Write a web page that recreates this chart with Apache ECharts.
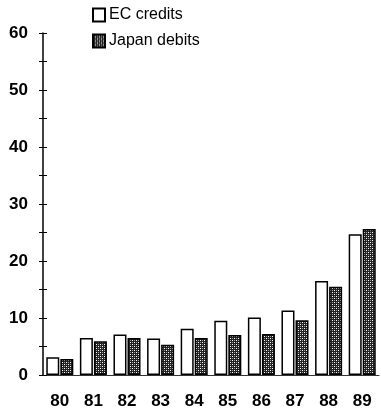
<!DOCTYPE html>
<html>
<head>
<meta charset="utf-8">
<script src="https://cdn.jsdelivr.net/npm/echarts@6/dist/echarts.min.js"></script>
<style>
  html, body { margin: 0; padding: 0; background: #fff; }
  #chart { width: 381px; height: 416px; }
</style>
<title>EC credits / Japan debits</title>
</head>
<body>
<div id="chart"></div>
<script>
// data
var years = ['80', '81', '82', '83', '84', '85', '86', '87', '88', '89'];
var ecCredits = [3.1, 6.5, 7.1, 6.4, 8.1, 9.5, 10.1, 11.3, 16.5, 24.7];
var japanDebits = [2.8, 5.9, 6.5, 5.3, 6.5, 7.0, 7.2, 9.6, 15.5, 25.6];
var yTicks = [0, 10, 20, 30, 40, 50, 60];

// dark checkered fill for the Japan bars
function makePattern() {
  var c = document.createElement('canvas');
  c.width = 4; c.height = 4;
  var ctx = c.getContext('2d');
  ctx.fillStyle = '#222';
  ctx.fillRect(0, 0, 4, 4);
  ctx.fillStyle = '#fff';
  ctx.fillRect(0, 0, 1, 1);
  ctx.fillRect(2, 2, 1, 1);
  ctx.fillStyle = '#999';
  ctx.fillRect(2, 0, 1, 1);
  ctx.fillRect(0, 2, 1, 1);
  return c;
}
var pattern = { image: makePattern(), repeat: 'repeat' };

var myChart = echarts.init(document.getElementById('chart'));
var font = 'Liberation Sans, Arial, sans-serif';

var option = {
  animation: false,
  grid: { left: 43, right: 2, top: 33, bottom: 41 },
  legend: {
    orient: 'vertical',
    left: 87,
    top: 2,
    icon: 'rect',
    itemWidth: 12,
    itemHeight: 13,
    itemGap: 10,
    selectedMode: false,
    textStyle: { fontFamily: font, fontSize: 16, color: '#000', padding: [5, 0, 0, -1] },
    data: ['EC credits', 'Japan debits']
  },
  xAxis: {
    type: 'category',
    data: years,
    axisLine: { lineStyle: { color: '#333', width: 1 } },
    axisTick: { show: false },
    axisLabel: { color: '#000', fontFamily: font, fontWeight: 'bold', fontSize: 17, margin: 18 }
  },
  yAxis: [{
    type: 'value',
    min: yTicks[0],
    max: yTicks[yTicks.length - 1],
    interval: 10,
    axisLine: { show: true, lineStyle: { color: '#000', width: 1.5 } },
    axisTick: { show: true, length: 4, lineStyle: { color: '#000' } },
    minorTick: { show: true, splitNumber: 2, length: 4, lineStyle: { color: '#000' } },
    splitLine: { show: false },
    axisLabel: { color: '#000', fontFamily: font, fontWeight: 'bold', fontSize: 17, margin: 15 }
  }, {
    type: 'value',
    position: 'left',
    min: yTicks[0],
    max: yTicks[yTicks.length - 1],
    interval: 10,
    axisLine: { show: false },
    axisTick: { show: true, inside: true, length: 4, lineStyle: { color: '#000' } },
    minorTick: { show: true, splitNumber: 2, length: 4, lineStyle: { color: '#000' } },
    splitLine: { show: false },
    axisLabel: { show: false }
  }],
  series: [{
    name: 'EC credits',
    type: 'bar',
    data: ecCredits,
    barWidth: 13,
    barGap: '8%',
    itemStyle: { color: '#fff', borderColor: '#000', borderWidth: 1.5 }
  }, {
    name: 'Japan debits',
    type: 'bar',
    data: japanDebits,
    barWidth: 13,
    itemStyle: { color: pattern, borderColor: '#000', borderWidth: 1.5 }
  }]
};

myChart.setOption(option);
</script>
</body>
</html>
